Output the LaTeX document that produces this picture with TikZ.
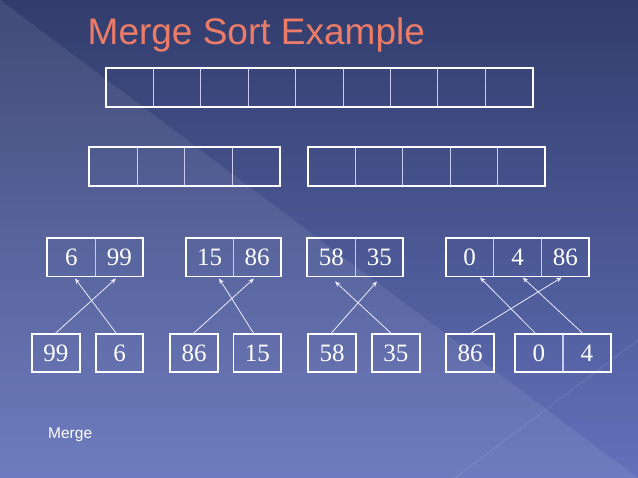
\documentclass[tikz,border=0pt]{standalone}
\usepackage{fontspec}
\setmainfont{Liberation Serif}
\setsansfont{Liberation Sans}
\usetikzlibrary{fit,arrows.meta}
\definecolor{bgtop}{RGB}{50,61,108}
\definecolor{bgbot}{RGB}{98,113,186}
\definecolor{titlecol}{RGB}{236,124,104}
\definecolor{divcol}{RGB}{200,205,240}
\tikzset{
  cell/.style={draw=divcol, line width=0.7pt, minimum width=47.7pt, minimum height=38.3pt,
    inner sep=0pt, outer sep=0pt, font=\fontsize{25}{25}\selectfont, text=white},
  single/.style={cell, draw=white, line width=1.8pt},
  frame/.style={draw=white, line width=1.8pt, inner sep=0pt, outer sep=0pt},
  mergearrow/.style={draw=white!92!blue, line width=0.8pt, -{Stealth[length=5.5pt,width=4.5pt]}}
}
\begin{document}
\begin{tikzpicture}[x=1pt,y=1pt]
\useasboundingbox (0,0) rectangle (638,478);
% background
\shade[top color=bgtop, bottom color=bgbot] (0,0) rectangle (638,478);
\fill[white, opacity=0.08] (0,478) -- (638,0) -- (0,0) -- cycle;
\draw[white, opacity=0.15, line width=0.6pt] (455,0) -- (638,138);
% title
\node[anchor=base west, inner sep=0pt, text=titlecol, font=\sffamily\fontsize{37}{37}\selectfont] (title) at (87.5,433) {Merge Sort Example};
% top array
\foreach \i in {1,...,9} \node[cell, minimum width=47.4pt] (t\i) at ({106+47.4*(\i-0.5)},390.5) {};
\node[frame, fit=(t1)(t9)] (top) {};
% second row
\foreach \i in {1,...,4} \node[cell] (L\i) at ({89.3+47.7*(\i-0.5)},311.5) {};
\node[frame, fit=(L1)(L4)] (left) {};
\foreach \i in {1,...,5} \node[cell, minimum width=47.46pt] (R\i) at ({307.7+47.46*(\i-0.5)},311.5) {};
\node[frame, fit=(R1)(R5)] (right) {};
% third row
\node[cell, minimum width=48pt] (A1) at (71.3,220.7) {6};
\node[cell, minimum width=48pt] (A2) at (119.3,220.7) {99};
\node[frame, fit=(A1)(A2)] (A) {};
\node[cell, minimum width=47.5pt] (B1) at (209.5,220.7) {15};
\node[cell, minimum width=47.5pt] (B2) at (257,220.7) {86};
\node[frame, fit=(B1)(B2)] (B) {};
\node[cell, minimum width=48pt] (C1) at (331.3,220.7) {58};
\node[cell, minimum width=48pt] (C2) at (379.3,220.7) {35};
\node[frame, fit=(C1)(C2)] (C) {};
\node[cell, minimum width=47.9pt] (D1) at (469.6,220.7) {0};
\node[cell, minimum width=47.9pt] (D2) at (517.5,220.7) {4};
\node[cell, minimum width=47.9pt] (D3) at (565.4,220.7) {86};
\node[frame, fit=(D1)(D3)] (D) {};
% bottom row
\node[single] (p1) at (55.85,125) {99};
\node[single] (p2) at (119.5,125) {6};
\node[single] (p3) at (194.2,125) {86};
\node[single] (p4) at (257.4,125) {15};
\node[single] (p5) at (332,125) {58};
\node[single] (p6) at (395.9,125) {35};
\node[single] (p7) at (470,125) {86};
\node[cell, minimum width=47.85pt] (q1) at (538.9,125) {0};
\node[cell, minimum width=47.85pt] (q2) at (586.8,125) {4};
\node[frame, fit=(q1)(q2)] (Q) {};
% arrows
\draw[mergearrow] ([xshift=-1pt]p1.north) -- ([xshift=-3.3pt,yshift=-2pt]A2.south);
\draw[mergearrow] ([xshift=-2.8pt]p2.north) -- ([xshift=3.7pt,yshift=-2pt]A1.south);
\draw[mergearrow] ([xshift=-1.2pt]p3.north) -- ([xshift=-3pt,yshift=-2pt]B2.south);
\draw[mergearrow] ([xshift=-3.4pt]p4.north) -- ([xshift=9.5pt,yshift=-2pt]B1.south);
\draw[mergearrow] ([xshift=-1.3pt]p5.north) -- ([xshift=-2.3pt,yshift=-5pt]C2.south);
\draw[mergearrow] ([xshift=-4.2pt]p6.north) -- ([xshift=3.7pt,yshift=-5pt]C1.south);
\draw[mergearrow] (p7.north) -- ([xshift=-3.7pt,yshift=-1pt]D3.south);
\draw[mergearrow] ([xshift=-3pt]q1.north) -- ([xshift=10.4pt,yshift=-1pt]D1.south);
\draw[mergearrow] ([xshift=-3.5pt]q2.north) -- ([xshift=5.2pt,yshift=-1pt]D2.south);
% caption
\node[anchor=base west, inner sep=0pt, text=white, font=\sffamily\fontsize{15.5}{15.5}\selectfont] (cap) at (48,39.7) {Merge};
\end{tikzpicture}
\end{document}
